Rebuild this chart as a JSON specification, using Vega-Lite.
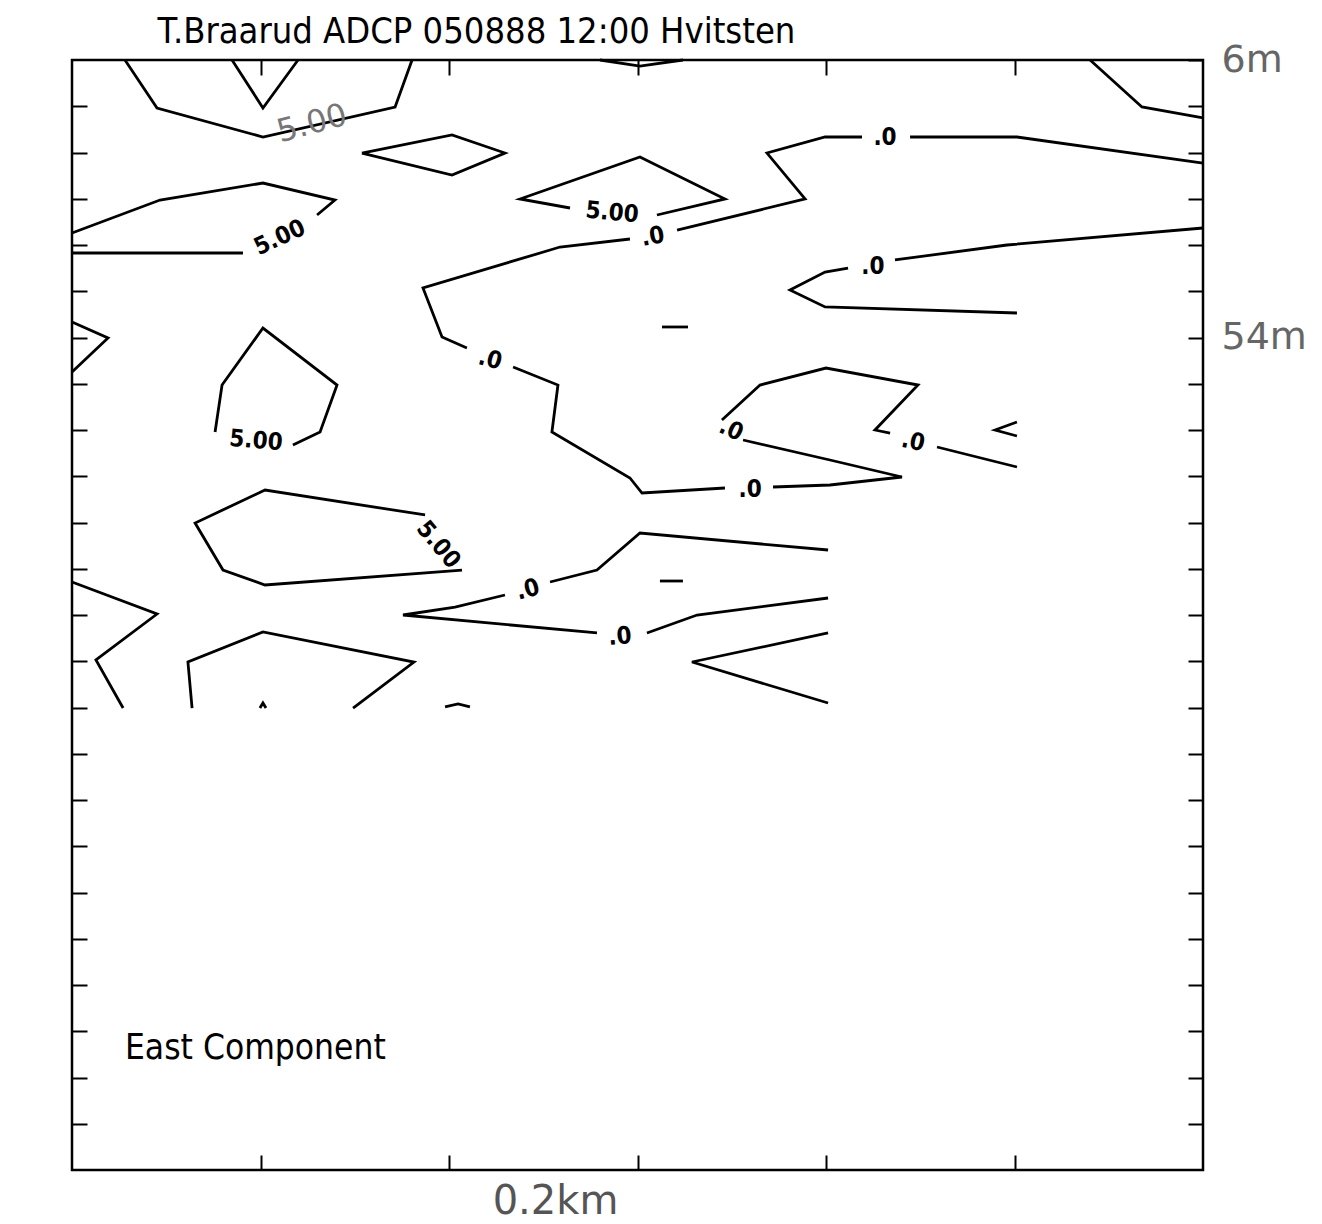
{
  "$schema": "https://vega.github.io/schema/vega-lite/v6.json",
  "width": 1131,
  "height": 1110,
  "autosize": "none",
  "padding": {"left": 72, "top": 60, "right": 119, "bottom": 54},
  "background": "white",
  "config": {"view": {"stroke": "black", "strokeWidth": 2.5}},
  "title": {"text": "T.Braarud ADCP 050888 12:00 Hvitsten", "anchor": "start", "dx": 91, "offset": -10, "fontSize": 36, "fontWeight": "normal", "font": "Liberation Sans Narrow, DejaVu Sans Condensed, Roboto", "color": "black"},
  "datasets": {
    "lines": [
      {"seg": "a", "i": 0, "x": 0.281, "depth": 6}, {"seg": "a", "i": 1, "x": 0.451, "depth": 14.3}, {"seg": "a", "i": 2, "x": 1.013, "depth": 19.32}, {"seg": "a", "i": 3, "x": 1.714, "depth": 14.13}, {"seg": "a", "i": 4, "x": 1.804, "depth": 6},
      {"seg": "b", "i": 0, "x": 0.849, "depth": 6}, {"seg": "b", "i": 1, "x": 1.013, "depth": 14.3}, {"seg": "b", "i": 2, "x": 1.199, "depth": 6},
      {"seg": "c", "i": 0, "x": 1.3, "depth": 32.81}, {"seg": "c", "i": 1, "x": 1.395, "depth": 30.22}, {"seg": "c", "i": 2, "x": 1.013, "depth": 27.28}, {"seg": "c", "i": 3, "x": 0.467, "depth": 30.22}, {"seg": "c", "i": 4, "x": 0, "depth": 35.92},
      {"seg": "d", "i": 0, "x": 0.907, "depth": 39.38}, {"seg": "d", "i": 1, "x": 0, "depth": 39.38},
      {"seg": "e", "i": 0, "x": 1.538, "depth": 22.09}, {"seg": "e", "i": 1, "x": 2.016, "depth": 18.97}, {"seg": "e", "i": 2, "x": 2.297, "depth": 22.09}, {"seg": "e", "i": 3, "x": 2.016, "depth": 25.89}, {"seg": "e", "i": 4, "x": 1.538, "depth": 22.09},
      {"seg": "f", "i": 0, "x": 0, "depth": 51.32}, {"seg": "f", "i": 1, "x": 0.191, "depth": 54.09}, {"seg": "f", "i": 2, "x": 0, "depth": 59.97},
      {"seg": "g", "i": 0, "x": 0.759, "depth": 70.35}, {"seg": "g", "i": 1, "x": 0.796, "depth": 62.22}, {"seg": "g", "i": 2, "x": 1.013, "depth": 52.36}, {"seg": "g", "i": 3, "x": 1.406, "depth": 62.22}, {"seg": "g", "i": 4, "x": 1.316, "depth": 70.35}, {"seg": "g", "i": 5, "x": 1.172, "depth": 72.59},
      {"seg": "h", "i": 0, "x": 1.873, "depth": 84.7}, {"seg": "h", "i": 1, "x": 1.024, "depth": 80.38}, {"seg": "h", "i": 2, "x": 0.653, "depth": 86.09}, {"seg": "h", "i": 3, "x": 0.801, "depth": 94.22}, {"seg": "h", "i": 4, "x": 1.024, "depth": 96.81}, {"seg": "h", "i": 5, "x": 2.069, "depth": 94.22},
      {"seg": "i", "i": 0, "x": 0, "depth": 96.29}, {"seg": "i", "i": 1, "x": 0.451, "depth": 101.83}, {"seg": "i", "i": 2, "x": 0.127, "depth": 109.78}, {"seg": "i", "i": 3, "x": 0.271, "depth": 118.09},
      {"seg": "j", "i": 0, "x": 0.637, "depth": 118.09}, {"seg": "j", "i": 1, "x": 0.615, "depth": 110.13}, {"seg": "j", "i": 2, "x": 1.013, "depth": 104.94}, {"seg": "j", "i": 3, "x": 1.814, "depth": 110.13}, {"seg": "j", "i": 4, "x": 1.491, "depth": 118.09},
      {"seg": "k", "i": 0, "x": 2.297, "depth": 98.54}, {"seg": "k", "i": 1, "x": 2.032, "depth": 100.62}, {"seg": "k", "i": 2, "x": 1.756, "depth": 102.0}, {"seg": "k", "i": 3, "x": 2.785, "depth": 105.11},
      {"seg": "l", "i": 0, "x": 2.536, "depth": 96.29}, {"seg": "l", "i": 1, "x": 2.785, "depth": 94.22}, {"seg": "l", "i": 2, "x": 3.013, "depth": 87.82}, {"seg": "l", "i": 3, "x": 4.011, "depth": 90.76},
      {"seg": "m", "i": 0, "x": 3.05, "depth": 105.11}, {"seg": "m", "i": 1, "x": 3.316, "depth": 102.0}, {"seg": "m", "i": 2, "x": 4.011, "depth": 99.06},
      {"seg": "n", "i": 0, "x": 4.011, "depth": 105.11}, {"seg": "n", "i": 1, "x": 3.289, "depth": 110.13}, {"seg": "n", "i": 2, "x": 4.011, "depth": 117.22},
      {"seg": "o", "i": 0, "x": 3.119, "depth": 96.12}, {"seg": "o", "i": 1, "x": 3.241, "depth": 96.12},
      {"seg": "p", "i": 0, "x": 3.13, "depth": 52.18}, {"seg": "p", "i": 1, "x": 3.268, "depth": 52.18},
      {"seg": "q", "i": 0, "x": 1.979, "depth": 117.91}, {"seg": "q", "i": 1, "x": 2.048, "depth": 117.39}, {"seg": "q", "i": 2, "x": 2.111, "depth": 117.91},
      {"seg": "r", "i": 0, "x": 2.801, "depth": 6}, {"seg": "r", "i": 1, "x": 3.013, "depth": 7.04}, {"seg": "r", "i": 2, "x": 3.241, "depth": 6},
      {"seg": "s1", "i": 0, "x": 6.0, "depth": 23.82}, {"seg": "s1", "i": 1, "x": 5.013, "depth": 19.32}, {"seg": "s1", "i": 2, "x": 4.446, "depth": 19.32},
      {"seg": "s2", "i": 0, "x": 4.191, "depth": 19.32}, {"seg": "s2", "i": 1, "x": 3.995, "depth": 19.32}, {"seg": "s2", "i": 2, "x": 3.687, "depth": 22.09}, {"seg": "s2", "i": 3, "x": 3.889, "depth": 30.04}, {"seg": "s2", "i": 4, "x": 3.21, "depth": 35.41},
      {"seg": "s3", "i": 0, "x": 2.96, "depth": 36.96}, {"seg": "s3", "i": 1, "x": 2.589, "depth": 38.35}, {"seg": "s3", "i": 2, "x": 1.862, "depth": 45.44}, {"seg": "s3", "i": 3, "x": 1.963, "depth": 53.91}, {"seg": "s3", "i": 4, "x": 2.095, "depth": 55.82},
      {"seg": "s4", "i": 0, "x": 2.34, "depth": 59.1}, {"seg": "s4", "i": 1, "x": 2.578, "depth": 62.22}, {"seg": "s4", "i": 2, "x": 2.546, "depth": 70.35}, {"seg": "s4", "i": 3, "x": 2.96, "depth": 78.3}, {"seg": "s4", "i": 4, "x": 3.024, "depth": 80.9}, {"seg": "s4", "i": 5, "x": 3.464, "depth": 80.03},
      {"seg": "s5", "i": 0, "x": 3.719, "depth": 79.86}, {"seg": "s5", "i": 1, "x": 4.021, "depth": 79.51}, {"seg": "s5", "i": 2, "x": 4.403, "depth": 78.13}, {"seg": "s5", "i": 3, "x": 4.021, "depth": 75.19}, {"seg": "s5", "i": 4, "x": 3.56, "depth": 71.73},
      {"seg": "s6", "i": 0, "x": 3.448, "depth": 68.27}, {"seg": "s6", "i": 1, "x": 3.65, "depth": 62.22}, {"seg": "s6", "i": 2, "x": 4.0, "depth": 59.28}, {"seg": "s6", "i": 3, "x": 4.488, "depth": 62.22}, {"seg": "s6", "i": 4, "x": 4.26, "depth": 70.0}, {"seg": "s6", "i": 5, "x": 4.34, "depth": 70.52},
      {"seg": "s7", "i": 0, "x": 4.589, "depth": 72.94}, {"seg": "s7", "i": 1, "x": 5.013, "depth": 76.4},
      {"seg": "t1", "i": 0, "x": 6.0, "depth": 35.06}, {"seg": "t1", "i": 1, "x": 4.96, "depth": 38.0}, {"seg": "t1", "i": 2, "x": 4.366, "depth": 40.59},
      {"seg": "t2", "i": 0, "x": 4.117, "depth": 41.98}, {"seg": "t2", "i": 1, "x": 3.995, "depth": 42.67}, {"seg": "t2", "i": 2, "x": 3.809, "depth": 45.78}, {"seg": "t2", "i": 3, "x": 3.995, "depth": 48.72}, {"seg": "t2", "i": 4, "x": 5.013, "depth": 49.76},
      {"seg": "u", "i": 0, "x": 5.401, "depth": 6}, {"seg": "u", "i": 1, "x": 5.676, "depth": 14.13}, {"seg": "u", "i": 2, "x": 6.0, "depth": 16.03},
      {"seg": "v", "i": 0, "x": 5.013, "depth": 68.62}, {"seg": "v", "i": 1, "x": 4.897, "depth": 70.0}, {"seg": "v", "i": 2, "x": 5.013, "depth": 71.04},
      {"seg": "w", "i": 0, "x": 3.103, "depth": 32.81}, {"seg": "w", "i": 1, "x": 3.464, "depth": 30.04}, {"seg": "w", "i": 2, "x": 3.013, "depth": 22.78}, {"seg": "w", "i": 3, "x": 2.377, "depth": 30.04}, {"seg": "w", "i": 4, "x": 2.642, "depth": 31.6},
      {"seg": "x", "i": 0, "x": 0.997, "depth": 118.09}, {"seg": "x", "i": 1, "x": 1.013, "depth": 117.22}, {"seg": "x", "i": 2, "x": 1.029, "depth": 118.09}
    ],
    "labels": [
      {"label": "5.00", "x": 1.103, "depth": 36.79, "angle": -25},
      {"label": "5.00", "x": 2.865, "depth": 32.46, "angle": 5},
      {"label": ".0", "x": 3.082, "depth": 36.62, "angle": -10},
      {"label": ".0", "x": 4.313, "depth": 19.49, "angle": 0},
      {"label": ".0", "x": 4.249, "depth": 41.81, "angle": 0},
      {"label": ".0", "x": 2.218, "depth": 57.89, "angle": 15},
      {"label": "5.00", "x": 0.976, "depth": 71.9, "angle": 5},
      {"label": ".0", "x": 3.496, "depth": 70.0, "angle": 25},
      {"label": ".0", "x": 4.462, "depth": 72.08, "angle": 12},
      {"label": ".0", "x": 3.597, "depth": 80.38, "angle": 0},
      {"label": "5.00", "x": 1.942, "depth": 89.89, "angle": 50},
      {"label": ".0", "x": 2.419, "depth": 97.68, "angle": -15},
      {"label": ".0", "x": 2.907, "depth": 105.81, "angle": -5}
    ]
  },
  "layer": [
    {
      "data": {"name": "lines"},
      "mark": {"type": "line", "color": "black", "strokeWidth": 2.8},
      "encoding": {
        "x": {"field": "x", "type": "quantitative", "scale": {"domain": [0, 6], "nice": false, "zero": false},
              "axis": {"orient": "bottom", "values": [1, 2, 3, 4, 5], "tickSize": -15, "tickWidth": 2, "tickColor": "black", "labels": false, "domain": false, "grid": false,
                       "title": "0.2km", "titleFont": "DejaVu Sans", "titleFontSize": 40, "titleFontWeight": "normal", "titleColor": "#555", "titleX": 483, "titleY": 31, "titleBaseline": "middle", "titleAlign": "center"}},
        "y": {"field": "depth", "type": "quantitative", "scale": {"domain": [6, 198], "reverse": true, "nice": false, "zero": false},
              "axis": {"orient": "left", "values": [14, 22, 30, 38, 46, 54, 62, 70, 78, 86, 94, 102, 110, 118, 126, 134, 142, 150, 158, 166, 174, 182, 190], "tickSize": -15, "tickWidth": 2, "tickColor": "black", "labels": false, "domain": false, "grid": false, "title": null}},
        "detail": {"field": "seg", "type": "nominal"},
        "order": {"field": "i", "type": "quantitative"}
      }
    },
    {
      "data": {"name": "labels"},
      "mark": {"type": "text", "font": "Liberation Sans Narrow, DejaVu Sans Condensed, Roboto", "fontSize": 24, "fontWeight": "bold", "color": "black", "align": "center", "baseline": "middle"},
      "encoding": {
        "x": {"field": "x", "type": "quantitative",
              "axis": {"orient": "top", "values": [1, 2, 3, 4, 5], "tickSize": -15, "tickWidth": 2, "tickColor": "black", "labels": false, "domain": false, "grid": false, "title": null}},
        "y": {"field": "depth", "type": "quantitative",
              "axis": {"orient": "right", "values": [6, 14, 22, 30, 38, 46, 54, 62, 70, 78, 86, 94, 102, 110, 118, 126, 134, 142, 150, 158, 166, 174, 182, 190], "tickSize": -15, "tickWidth": 2, "tickColor": "black", "domain": false, "grid": false, "title": null,
                       "labelExpr": "datum.value == 6 ? '6m' : datum.value == 54 ? '54m' : ''", "labelFont": "DejaVu Sans", "labelFontSize": 38, "labelColor": "#666", "labelPadding": 33, "labelAlign": "left", "labelBaseline": "middle", "labelOverlap": false, "labelBound": false}},
        "text": {"field": "label", "type": "nominal"},
        "angle": {"field": "angle", "type": "quantitative", "scale": null}
      }
    },
    {
      "data": {"values": [{"label": "5.00", "x": 1.273, "depth": 17.0, "angle": -15}]},
      "mark": {"type": "text", "font": "DejaVu Sans", "fontSize": 32, "fontWeight": "normal", "color": "#777", "align": "center", "baseline": "middle"},
      "encoding": {
        "x": {"field": "x", "type": "quantitative", "axis": null},
        "y": {"field": "depth", "type": "quantitative", "axis": null},
        "text": {"field": "label", "type": "nominal"},
        "angle": {"field": "angle", "type": "quantitative", "scale": null}
      }
    },
    {
      "data": {"values": [{"label": "East Component", "x": 0.281, "depth": 176.9}]},
      "mark": {"type": "text", "font": "Liberation Sans Narrow, DejaVu Sans Condensed, Roboto", "fontSize": 35, "fontWeight": "normal", "color": "black", "align": "left", "baseline": "middle"},
      "encoding": {
        "x": {"field": "x", "type": "quantitative", "axis": null},
        "y": {"field": "depth", "type": "quantitative", "axis": null},
        "text": {"field": "label", "type": "nominal"}
      }
    }
  ],
  "resolve": {"axis": {"x": "independent", "y": "independent"}}
}
